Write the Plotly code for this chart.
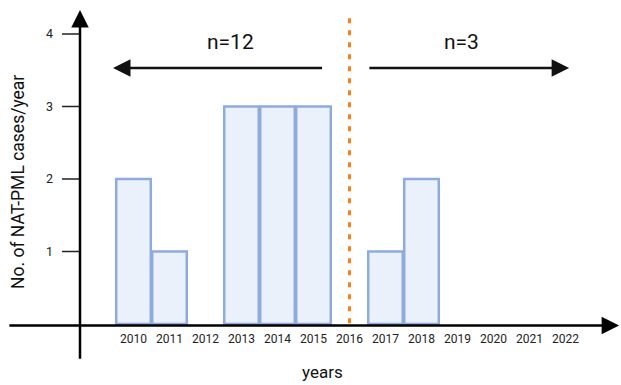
import plotly.graph_objects as go

# ---- data ----
years = [2010, 2011, 2012, 2013, 2014, 2015, 2016, 2017, 2018, 2019, 2020, 2021, 2022]
cases = [2, 1, 0, 3, 3, 3, 0, 1, 2, 0, 0, 0, 0]
tick_labels = [str(y) for y in years]
y_ticks = [1, 2, 3, 4]
split_year = 2016
group_labels = ["n=12", "n=3"]
# arrow spans (years) and height (cases/year) for the group indicators
group_arrows = [(2015.28, 2009.43), (2016.51, 2022.10)]  # (tail, tip)
group_arrow_y = 3.53
group_label_y = 3.89

FONT = "Roboto"
BAR_FILL = "#EAF1FA"
BAR_LINE = "#8FAADC"
ORANGE = "#F7801E"

x_range = [2006.2917, 2023.5417]
y_range = [-0.8414, 4.469]

fig = go.Figure()
bx = [y for y, c in zip(years, cases) if c > 0]
by = [c for c in cases if c > 0]
fig.add_trace(go.Bar(
    x=bx, y=by, width=0.96,
    marker=dict(color=BAR_FILL, line=dict(color=BAR_LINE, width=2.5)),
    hoverinfo="skip",
))

axis_x0 = 2006.51
axis_y_x = 2008.514

shapes = []
# dotted split line
shapes.append(dict(type="line", x0=split_year, x1=split_year, y0=0.01, y1=4.22,
                   xref="x", yref="y",
                   line=dict(color=ORANGE, width=3, dash="5px,7px")))
# y tick marks
for t in y_ticks:
    shapes.append(dict(type="line", x0=axis_y_x - 0.5, x1=axis_y_x, y0=t, y1=t,
                       xref="x", yref="y", line=dict(color="#222222", width=1.5)))

anns = []
# axes with arrows
anns.append(dict(x=2023.49, y=-0.02, ax=axis_x0, ay=-0.02,
                 xref="x", yref="y", axref="x", ayref="y",
                 text="", showarrow=True, arrowhead=2, arrowsize=1.4,
                 arrowwidth=2.5, arrowcolor="black", standoff=0))
anns.append(dict(x=axis_y_x, y=4.33, ax=axis_y_x, ay=-0.50,
                 xref="x", yref="y", axref="x", ayref="y",
                 text="", showarrow=True, arrowhead=2, arrowsize=1.4,
                 arrowwidth=2.5, arrowcolor="black", standoff=0))
# group arrows + labels
label_x = [2012.7, 2019.1]
for (tail, tip), lbl, lx in zip(group_arrows, group_labels, label_x):
    anns.append(dict(x=tip, y=group_arrow_y, ax=tail, ay=group_arrow_y,
                     xref="x", yref="y", axref="x", ayref="y",
                     text="", showarrow=True, arrowhead=2, arrowsize=1.4,
                     arrowwidth=2.5, arrowcolor="#111111", standoff=0))
    anns.append(dict(x=lx, y=group_label_y, xref="x", yref="y",
                     xanchor="center", yanchor="middle",
                     text=lbl, showarrow=False,
                     font=dict(family=FONT, size=21, color="#111111")))

# axis titles
anns.append(dict(x=18 / 621, y=1 - 182 / 385, xref="paper", yref="paper",
                 xanchor="center", yanchor="middle",
                 text="No. of NAT-PML cases/year", textangle=-90, showarrow=False,
                 font=dict(family=FONT, size=17.5, color="#111111")))
anns.append(dict(x=322 / 621, y=1 - 372 / 385, xref="paper", yref="paper",
                 xanchor="center", yanchor="middle",
                 text="years", showarrow=False,
                 font=dict(family=FONT, size=17, color="#111111")))

fig.update_layout(
    width=621, height=385,
    margin=dict(l=0, r=0, t=0, b=0, autoexpand=False),
    paper_bgcolor="white", plot_bgcolor="white",
    showlegend=False,
    annotations=anns,
    shapes=shapes,
    xaxis=dict(range=x_range, anchor="free", position=61 / 385,
               tickvals=years, ticktext=tick_labels, ticks="",
               showgrid=False, zeroline=False, showline=False,
               tickfont=dict(family=FONT, size=12, color="#222222"),
               ticklabelstandoff=6),
    yaxis=dict(range=y_range, anchor="free", position=80 / 621,
               tickvals=y_ticks, ticks="",
               showgrid=False, zeroline=False, showline=False,
               tickfont=dict(family=FONT, size=12.5, color="#222222"),
               ticklabelstandoff=27),
)

fig.write_html(
    "out.html",
    config={"displayModeBar": False},
    post_script="document.body.style.margin='0';document.body.style.padding='0';",
)
